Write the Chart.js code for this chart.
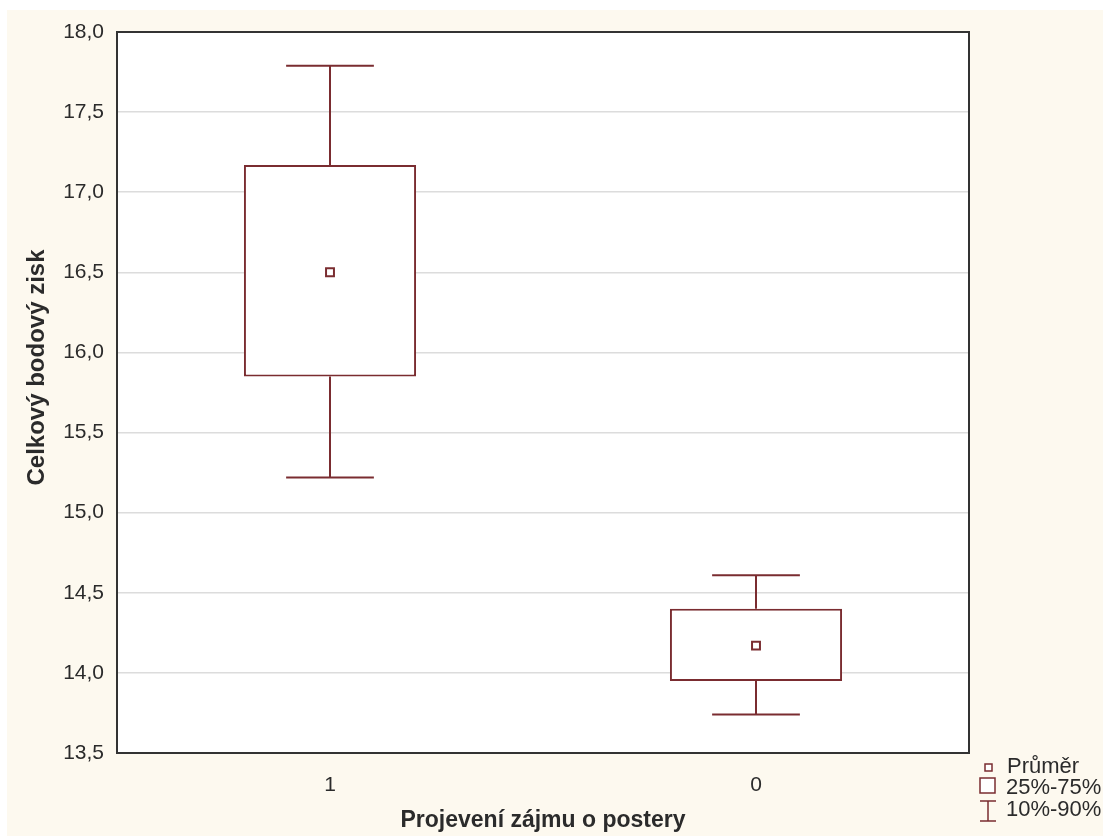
<!DOCTYPE html>
<html>
<head>
<meta charset="utf-8">
<script src="https://cdn.jsdelivr.net/npm/chart.js@4.4.1/dist/chart.umd.min.js"></script>
<style>
  html, body { margin: 0; padding: 0; background: #ffffff; }
  #wrap { width: 1106px; height: 836px; }
</style>
</head>
<body>
<div id="wrap"><canvas id="chart" width="1106" height="836"></canvas></div>
<script>
const categories = ['1', '0'];
const p10 = [15.22, 13.74];
const q25 = [15.85, 13.95];
const mean = [16.5, 14.17];
const q75 = [17.17, 14.40];
const p90 = [17.79, 14.61];
const yTicks = [13.5, 14.0, 14.5, 15.0, 15.5, 16.0, 16.5, 17.0, 17.5, 18.0];
const yTitle = 'Celkový bodový zisk';

const boxColor = '#7a2c30';
const textColor = '#2b2b2b';
const fontFamily = '"Liberation Sans", Arial, sans-serif';

// cream page + white plot + frame + y title
const framePlugin = {
    id: 'frame',
    beforeDraw(chart) {
        const ctx = chart.ctx;
        const a = chart.chartArea;
        ctx.save();
        ctx.fillStyle = '#fdf9ef';
        ctx.fillRect(7, 10, 1096, 826);
        ctx.fillStyle = '#ffffff';
        ctx.fillRect(a.left, a.top, a.right - a.left, a.bottom - a.top);
        ctx.restore();
    },
    afterDraw(chart) {
        const ctx = chart.ctx;
        const a = chart.chartArea;
        ctx.save();
        ctx.strokeStyle = '#333333';
        ctx.lineWidth = 2;
        ctx.strokeRect(a.left, a.top, a.right - a.left, a.bottom - a.top);
        // y title sits a bit above the axis middle, as in the original
        ctx.translate(37, (a.top + a.bottom) / 2 - 25);
        ctx.rotate(-Math.PI / 2);
        ctx.fillStyle = textColor;
        ctx.font = 'bold 24px ' + fontFamily;
        ctx.textAlign = 'center';
        ctx.textBaseline = 'middle';
        ctx.fillText(yTitle, 0, 0);
        ctx.restore();
    }
};

// whiskers drawn through the scales
const whiskerPlugin = {
    id: 'whiskers',
    afterDatasetsDraw(chart) {
        const ctx = chart.ctx;
        const x = chart.scales.x;
        const y = chart.scales.y;
        const capHalf = (x.getPixelForValue(1) - x.getPixelForValue(0)) * 0.103;
        ctx.save();
        ctx.strokeStyle = boxColor;
        ctx.lineWidth = 2;
        for (let i = 0; i < categories.length; i++) {
            const cx = Math.round(x.getPixelForValue(i));
            ctx.beginPath();
            ctx.moveTo(cx, y.getPixelForValue(q75[i]));
            ctx.lineTo(cx, y.getPixelForValue(p90[i]));
            ctx.moveTo(cx - capHalf, y.getPixelForValue(p90[i]));
            ctx.lineTo(cx + capHalf, y.getPixelForValue(p90[i]));
            ctx.moveTo(cx, y.getPixelForValue(q25[i]));
            ctx.lineTo(cx, y.getPixelForValue(p10[i]));
            ctx.moveTo(cx - capHalf, y.getPixelForValue(p10[i]));
            ctx.lineTo(cx + capHalf, y.getPixelForValue(p10[i]));
            ctx.stroke();
        }
        ctx.restore();
    }
};

// legend in the bottom right corner
const legendPlugin = {
    id: 'statLegend',
    afterDraw(chart) {
        const ctx = chart.ctx;
        ctx.save();
        ctx.strokeStyle = boxColor;
        ctx.lineWidth = 1.5;
        ctx.fillStyle = '#ffffff';
        // mean marker
        ctx.fillRect(985, 764, 7, 7);
        ctx.strokeRect(985, 764, 7, 7);
        // box
        ctx.fillRect(980, 778, 15, 15);
        ctx.strokeRect(980, 778, 15, 15);
        // whisker
        ctx.beginPath();
        ctx.moveTo(980, 801); ctx.lineTo(996, 801);
        ctx.moveTo(988, 801); ctx.lineTo(988, 821);
        ctx.moveTo(980, 821); ctx.lineTo(996, 821);
        ctx.stroke();
        ctx.fillStyle = textColor;
        ctx.font = '22px ' + fontFamily;
        ctx.textBaseline = 'middle';
        ctx.textAlign = 'left';
        ctx.fillText('Průměr', 1007, 767);
        ctx.fillText('25%-75%', 1006, 788);
        ctx.fillText('10%-90%', 1006, 810);
        ctx.restore();
    }
};

const ctx = document.querySelector('#chart').getContext('2d');
const chart = new Chart(ctx, {
    type: 'bar',
    data: {
        labels: categories,
        datasets: [{
            type: 'line',
            label: 'Průměr',
            data: mean,
            showLine: false,
            pointStyle: 'rect',
            pointRadius: 5.6,
            pointBorderWidth: 2,
            pointBackgroundColor: '#ffffff',
            pointBorderColor: boxColor,
            order: 0
        }, {
            label: '25%-75%',
            data: q25.map((v, i) => [v, q75[i]]),
            backgroundColor: '#ffffff',
            borderColor: boxColor,
            borderWidth: 2,
            borderSkipped: false,
            categoryPercentage: 1,
            barPercentage: 0.404,
            order: 1
        }]
    },
    options: {
        responsive: false,
        animation: false,
        events: [],
        layout: { padding: { left: 0, top: 32, right: 137, bottom: 0 } },
        plugins: { legend: { display: false }, tooltip: { enabled: false } },
        scales: {
            x: {
                offset: true,
                grid: { display: false, drawTicks: false },
                border: { display: false },
                ticks: { color: textColor, font: { family: fontFamily, size: 21 }, padding: 20 },
                title: {
                    display: true,
                    text: 'Projevení zájmu o postery',
                    color: textColor,
                    font: { family: fontFamily, size: 23, weight: 'bold' },
                    padding: { top: 0, bottom: 2 }
                },
                afterFit(scale) { scale.height = 83; }
            },
            y: {
                min: 13.5,
                max: 18,
                afterBuildTicks(scale) { scale.ticks = yTicks.map(v => ({ value: v })); },
                grid: { color: '#dcdcdc', drawTicks: false, lineWidth: 1.5 },
                border: { display: false },
                ticks: {
                    color: textColor,
                    font: { family: fontFamily, size: 21 },
                    padding: 13,
                    callback: v => v.toFixed(1).replace('.', ',')
                },
                afterFit(scale) { scale.width = 117; }
            }
        }
    },
    plugins: [framePlugin, whiskerPlugin, legendPlugin]
});
</script>
</body>
</html>
